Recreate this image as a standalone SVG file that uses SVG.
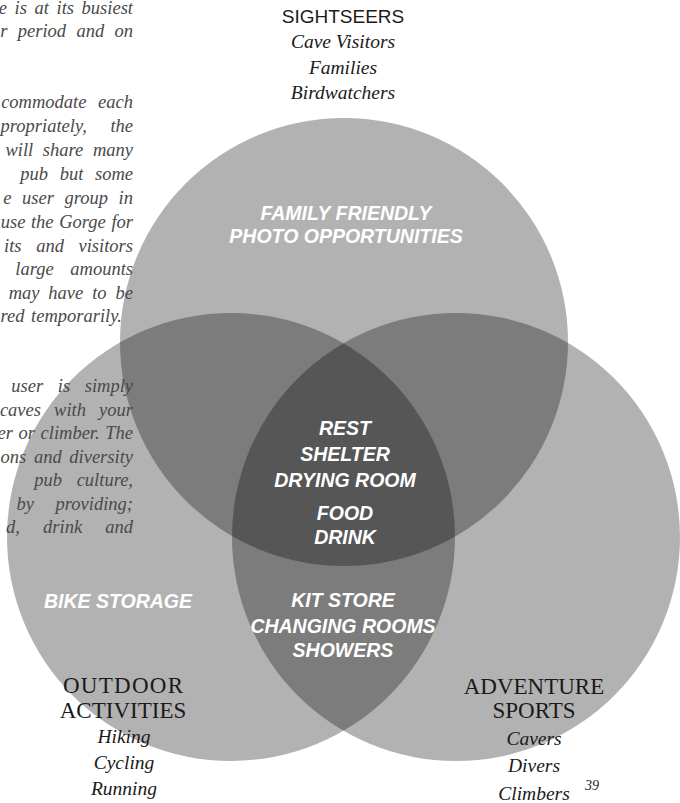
<svg xmlns="http://www.w3.org/2000/svg" width="680" height="803" viewBox="0 0 680 803">
<style>
.set{fill:#000;fill-opacity:0.3}
.para{font-family:"Liberation Serif",serif;font-style:italic;font-size:18.5px;fill:#4a4a4a;text-anchor:end}
.title{font-family:"Liberation Serif",serif;font-size:23px;fill:#1a1a1a;text-anchor:middle}
.sans-title{font-family:"Liberation Sans",Arial,sans-serif;font-size:19px;fill:#1a1a1a;text-anchor:middle}
.member{font-family:"Liberation Serif",serif;font-style:italic;font-size:19.5px;fill:#1a1a1a;text-anchor:middle}
.region{font-family:"Liberation Sans",Arial,sans-serif;font-style:italic;font-weight:bold;font-size:19.5px;fill:#fff;text-anchor:middle}
.page{font-family:"Liberation Serif",serif;font-style:italic;font-size:14px;fill:#1a1a1a;text-anchor:middle}
</style>
<rect width="680" height="803" fill="#fff"/>
<g id="circles">
<circle id="circle-sightseers" class="set" cx="344" cy="342" r="224"/>
<circle id="circle-outdoor" class="set" cx="231" cy="537" r="224"/>
<circle id="circle-adventure" class="set" cx="456" cy="537" r="224"/>
</g>
<g id="paragraph">
<text class="para" x="133" y="14" word-spacing="3">e is at its busiest</text>
<text class="para" x="133" y="37" word-spacing="5.7">r period and on</text>
<text class="para" x="133" y="108" word-spacing="7">commodate each</text>
<text class="para" x="133" y="132" word-spacing="19">propriately, the</text>
<text class="para" x="133" y="156" word-spacing="5">will share many</text>
<text class="para" x="133" y="180" word-spacing="7">pub but some</text>
<text class="para" x="133" y="204" word-spacing="6">e user group in</text>
<text class="para" x="133" y="228" word-spacing="1">use the Gorge for</text>
<text class="para" x="133" y="252" word-spacing="10">its and visitors</text>
<text class="para" x="133" y="275" word-spacing="12">large amounts</text>
<text class="para" x="133" y="299" word-spacing="4.3">may have to be</text>
<text class="para" x="122" y="322" word-spacing="2">red temporarily.</text>
<text class="para" x="133" y="392" word-spacing="10">user is simply</text>
<text class="para" x="133" y="416" word-spacing="8.5">caves with your</text>
<text class="para" x="133" y="439" word-spacing="1">er or climber. The</text>
<text class="para" x="133" y="463" word-spacing="3">ons and diversity</text>
<text class="para" x="133" y="486" word-spacing="10">pub culture,</text>
<text class="para" x="133" y="510" word-spacing="17">by providing;</text>
<text class="para" x="133" y="533" word-spacing="18.5">d, drink and</text>
</g>
<g id="node-sightseers">
<text class="sans-title" x="343" y="23">SIGHTSEERS</text>
<text class="member" x="343" y="48">Cave Visitors</text>
<text class="member" x="343" y="74">Families</text>
<text class="member" x="343" y="99">Birdwatchers</text>
<text class="region" x="346" y="220">FAMILY FRIENDLY</text>
<text class="region" x="346" y="243">PHOTO OPPORTUNITIES</text>
</g>
<g id="node-outdoor">
<text class="title" x="123" y="693" textLength="120">OUTDOOR</text>
<text class="title" x="123" y="718">ACTIVITIES</text>
<text class="member" x="124" y="743">Hiking</text>
<text class="member" x="124" y="769">Cycling</text>
<text class="member" x="124" y="795">Running</text>
<text class="region" x="118" y="608">BIKE STORAGE</text>
</g>
<g id="node-adventure">
<text class="title" x="534" y="694">ADVENTURE</text>
<text class="title" x="534" y="718">SPORTS</text>
<text class="member" x="534" y="745">Cavers</text>
<text class="member" x="534" y="772">Divers</text>
<text class="member" x="534" y="800">Climbers</text>
</g>
<g id="node-centre">
<text class="region" x="345" y="435">REST</text>
<text class="region" x="345" y="461">SHELTER</text>
<text class="region" x="345" y="487">DRYING ROOM</text>
<text class="region" x="345" y="520">FOOD</text>
<text class="region" x="345" y="544">DRINK</text>
</g>
<g id="node-outdoor-adventure">
<text class="region" x="343" y="607">KIT STORE</text>
<text class="region" x="343" y="633">CHANGING ROOMS</text>
<text class="region" x="343" y="657">SHOWERS</text>
</g>
<text class="page" x="592" y="790">39</text>
</svg>
